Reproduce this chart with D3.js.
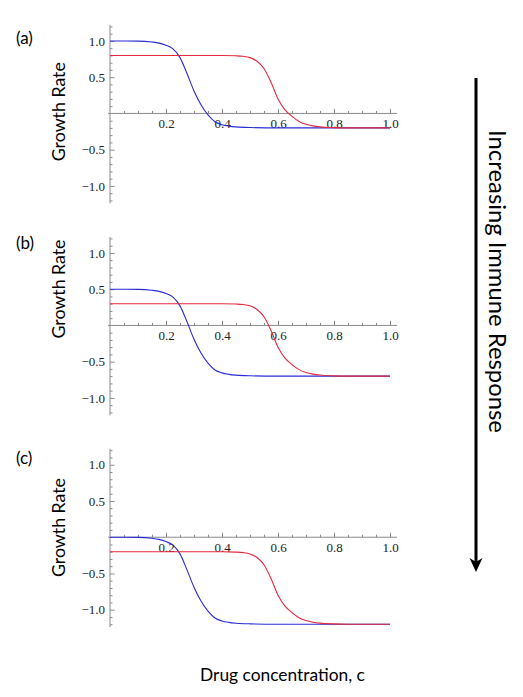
<!DOCTYPE html>
<html>
<head>
<meta charset="utf-8">
<script src="https://cdn.jsdelivr.net/npm/d3@7"></script>
<style>
  html, body { margin: 0; padding: 0; background: #fff; }
  svg { display: block; }
</style>
</head>
<body>
<svg id="chart" width="523" height="697"></svg>
<script>
// ---------- data ----------
const panelLabels = ["(a)", "(b)", "(c)"];
const yAxisTitle = "Growth Rate";
const xAxisTitle = "Drug concentration, c";
const sideTitle = "Increasing Immune Response";

const xTickValues = [0.2, 0.4, 0.6, 0.8, 1.0];
const xTickLabels = ["0.2", "0.4", "0.6", "0.8", "1.0"];
const yTickValues = [-1.0, -0.5, 0.5, 1.0];
const yTickLabels = ["\u22121.0", "\u22120.5", "0.5", "1.0"];

const cBlue = [0, 0.1, 0.15, 0.175, 0.2, 0.225, 0.25, 0.275, 0.3, 0.325, 0.35, 0.375, 0.4, 0.425, 0.45, 0.5, 0.6, 0.8, 1.0];
const blueA = [1.0, 0.998, 0.985, 0.97, 0.94, 0.89, 0.77, 0.55, 0.31, 0.12, -0.02, -0.115, -0.155, -0.175, -0.186, -0.195, -0.2, -0.2, -0.2];
const blueB = [0.5, 0.498, 0.485, 0.47, 0.44, 0.39, 0.27, 0.05, -0.19, -0.38, -0.52, -0.615, -0.655, -0.675, -0.686, -0.695, -0.7, -0.7, -0.7];
const blueC = [0.0, -0.002, -0.015, -0.03, -0.06, -0.11, -0.23, -0.45, -0.69, -0.88, -1.02, -1.115, -1.155, -1.175, -1.186, -1.195, -1.2, -1.2, -1.2];

const cRed = [0, 0.4, 0.45, 0.475, 0.5, 0.525, 0.55, 0.575, 0.6, 0.625, 0.65, 0.675, 0.7, 0.725, 0.75, 0.8, 0.85, 1.0];
const redA = [0.8, 0.8, 0.795, 0.788, 0.77, 0.72, 0.62, 0.43, 0.2, 0.05, -0.04, -0.11, -0.15, -0.172, -0.185, -0.196, -0.2, -0.2];
const redB = [0.3, 0.3, 0.295, 0.288, 0.27, 0.22, 0.12, -0.07, -0.3, -0.45, -0.54, -0.61, -0.65, -0.672, -0.685, -0.696, -0.7, -0.7];
const redC = [-0.2, -0.2, -0.205, -0.212, -0.23, -0.28, -0.38, -0.57, -0.8, -0.95, -1.04, -1.11, -1.15, -1.172, -1.185, -1.196, -1.2, -1.2];

const blueSeries = [blueA, blueB, blueC];
const redSeries = [redA, redB, redC];

// ---------- layout ----------
const svg = d3.select("#chart");
const axisColor = "#8a8a8a";
const blueColor = "#2b2bd6";
const redColor = "#e32a3e";
const serif = "'Liberation Serif', 'Times New Roman', serif";
const sans = "Lato, 'Open Sans', sans-serif";

const xLeft = 110, xRight = 390;
const x = d3.scaleLinear().domain([0, 1]).range([xLeft, xRight]);

const panelTops = [25, 237, 448.8];
const panelHeight = 178.3;
const yDomain = [-1.24, 1.22];
const labelPos = [ {x: 16, y: 44}, {x: 16, y: 249}, {x: 16, y: 464} ];
const titleCenters = [111.7, 289, 527.5];

function fitText(sel, targetWidth) {
  sel.attr("font-size", 100);
  const w = sel.node().getComputedTextLength();
  sel.attr("font-size", 100 * targetWidth / w);
}

panelLabels.forEach((lab, i) => {
  const y = d3.scaleLinear().domain(yDomain).range([panelTops[i] + panelHeight, panelTops[i]]);
  const g = svg.append("g");

  // axis lines
  g.append("line")
    .attr("x1", x(-0.007)).attr("x2", x(1.025))
    .attr("y1", y(0)).attr("y2", y(0))
    .attr("stroke", axisColor).attr("stroke-width", 1);
  g.append("line")
    .attr("x1", x(0)).attr("x2", x(0))
    .attr("y1", y(yDomain[1])).attr("y2", y(yDomain[0]))
    .attr("stroke", axisColor).attr("stroke-width", 1);

  // x axis minor ticks
  const xMinor = d3.range(1, 21).map(k => k * 0.05).filter(v => Math.abs(v / 0.2 - Math.round(v / 0.2)) > 1e-6);
  const xMinorAxis = d3.axisBottom(x).tickValues(xMinor).tickFormat("").tickSizeInner(-2.5).tickSizeOuter(0);
  g.append("g").attr("transform", `translate(0,${y(0)})`).call(xMinorAxis)
    .call(s => s.select(".domain").remove())
    .call(s => s.selectAll("line").attr("stroke", axisColor));

  // x axis major ticks
  const xAxis = d3.axisBottom(x).tickValues(xTickValues)
    .tickFormat((d, k) => xTickLabels[k]).tickSizeInner(-4.5).tickSizeOuter(0).tickPadding(5.5);
  g.append("g").attr("transform", `translate(0,${y(0)})`).call(xAxis)
    .call(s => s.select(".domain").remove())
    .call(s => s.selectAll("line").attr("stroke", axisColor))
    .call(s => s.selectAll("text").attr("font-family", serif).attr("font-size", 13).attr("fill", "#222"));

  // y axis minor ticks
  const yMinor = d3.range(-12, 13).map(k => k * 0.1).filter(v => Math.abs(v) > 1e-6 && Math.abs(v / 0.5 - Math.round(v / 0.5)) > 1e-6);
  const yMinorAxis = d3.axisLeft(y).tickValues(yMinor).tickFormat("").tickSizeInner(-2.5).tickSizeOuter(0);
  g.append("g").attr("transform", `translate(${x(0)},0)`).call(yMinorAxis)
    .call(s => s.select(".domain").remove())
    .call(s => s.selectAll("line").attr("stroke", axisColor));

  // y axis major ticks
  const yAxis = d3.axisLeft(y).tickValues(yTickValues)
    .tickFormat((d, k) => yTickLabels[k]).tickSizeInner(-4.5).tickSizeOuter(0).tickPadding(5);
  g.append("g").attr("transform", `translate(${x(0)},0)`).call(yAxis)
    .call(s => s.select(".domain").remove())
    .call(s => s.selectAll("line").attr("stroke", axisColor))
    .call(s => s.selectAll("text").attr("font-family", serif).attr("font-size", 13).attr("fill", "#222"));

  // curves
  const line = d3.line().x(d => x(d[0])).y(d => y(d[1])).curve(d3.curveMonotoneX);
  g.append("path").datum(cBlue.map((c, k) => [c, blueSeries[i][k]]))
    .attr("d", line).attr("fill", "none").attr("stroke", blueColor).attr("stroke-width", 1.1);
  g.append("path").datum(cRed.map((c, k) => [c, redSeries[i][k]]))
    .attr("d", line).attr("fill", "none").attr("stroke", redColor).attr("stroke-width", 1.1);

  // panel label
  g.append("text").attr("x", labelPos[i].x).attr("y", labelPos[i].y)
    .attr("font-family", sans).attr("font-size", 17).attr("fill", "#000").text(lab);

  // y axis title
  const t = g.append("text")
    .attr("transform", `translate(65,${titleCenters[i]}) rotate(-90)`)
    .attr("text-anchor", "middle").attr("font-family", sans).attr("fill", "#000")
    .text(yAxisTitle);
  fitText(t, 99);
});

// x axis title
const xt = svg.append("text").attr("x", 282.5).attr("y", 681)
  .attr("text-anchor", "middle").attr("font-family", sans).attr("fill", "#000")
  .text(xAxisTitle);
fitText(xt, 165);

// side arrow and title
const arrowX = 476, arrowTop = 78, arrowTip = 572;
svg.append("line").attr("x1", arrowX).attr("x2", arrowX)
  .attr("y1", arrowTop).attr("y2", arrowTip - 10)
  .attr("stroke", "#000").attr("stroke-width", 3);
const ah = d3.path();
ah.moveTo(arrowX, arrowTip);
ah.lineTo(arrowX - 6.5, arrowTip - 14);
ah.lineTo(arrowX, arrowTip - 10);
ah.lineTo(arrowX + 6.5, arrowTip - 14);
ah.closePath();
svg.append("path").attr("d", ah.toString()).attr("fill", "#000");

const st = svg.append("text")
  .attr("transform", `translate(489,281.5) rotate(90)`)
  .attr("text-anchor", "middle").attr("font-family", sans).attr("fill", "#000")
  .text(sideTitle);
fitText(st, 303);
</script>
</body>
</html>
